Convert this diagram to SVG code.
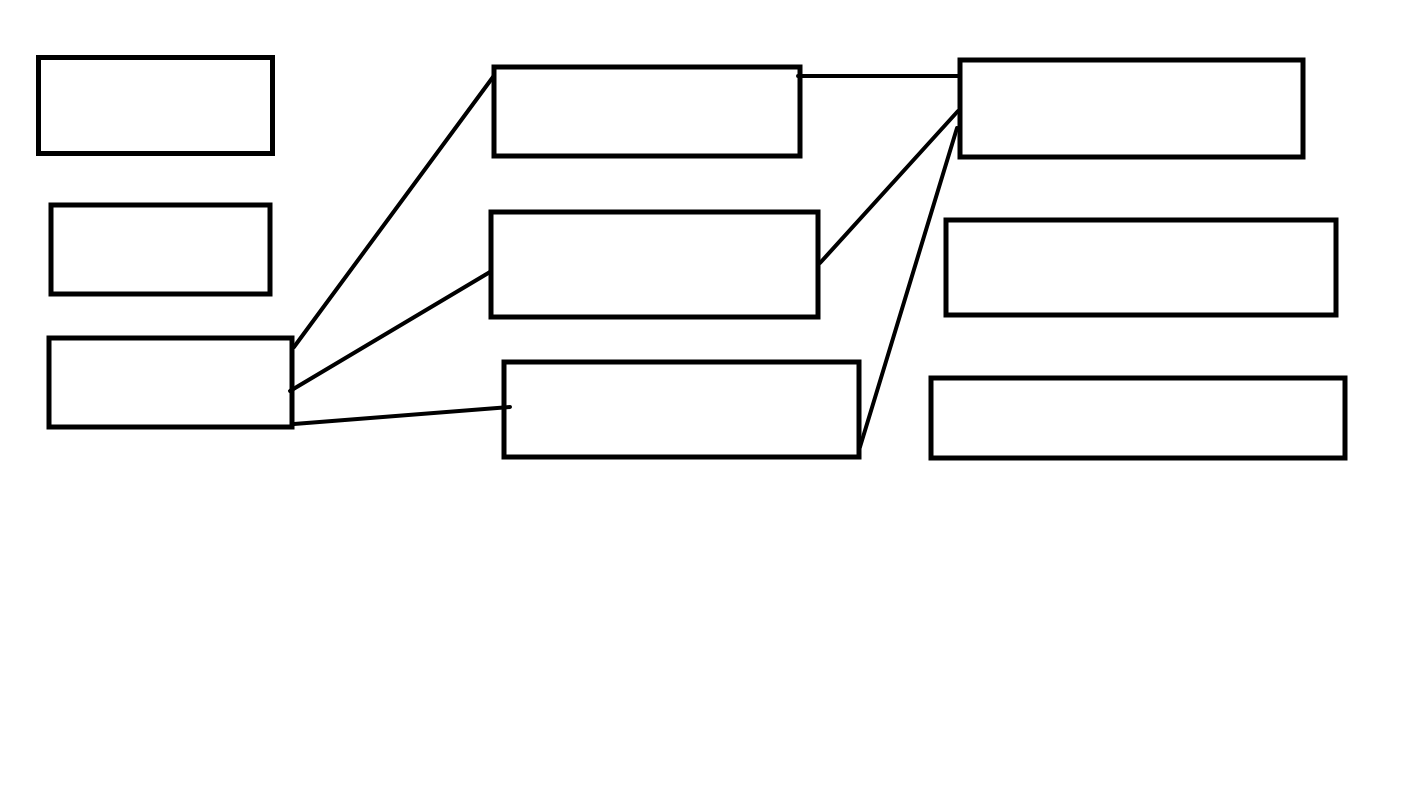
<svg xmlns="http://www.w3.org/2000/svg" width="1423" height="789" viewBox="0 0 1423 789">
<style>
.n{fill:none;stroke:#000;stroke-width:5}
.c{fill:none;stroke:#000;stroke-width:4;stroke-linecap:round}
</style>
<rect width="1423" height="789" fill="#fff"/>
<g id="node1"><rect class="n" x="38.5" y="57.5" width="234" height="96"/></g>
<g id="node2"><rect class="n" x="51" y="205" width="219" height="89"/></g>
<g id="node3"><rect class="n" x="49" y="338" width="243" height="89"/></g>
<g id="node4"><rect class="n" x="494" y="67" width="306" height="89"/></g>
<g id="node5"><rect class="n" x="491" y="212" width="327" height="105"/></g>
<g id="node6"><rect class="n" x="504" y="362" width="355" height="95"/></g>
<g id="node7"><rect class="n" x="960" y="60" width="343" height="97"/></g>
<g id="node8"><rect class="n" x="946" y="220" width="390" height="95"/></g>
<g id="node9"><rect class="n" x="931" y="378" width="414" height="80"/></g>
<g id="connectors">
<line class="c" x1="294" y1="347" x2="493" y2="77"/>
<line class="c" x1="290" y1="391" x2="490" y2="272"/>
<line class="c" x1="294" y1="424" x2="510" y2="407"/>
<line class="c" x1="798" y1="76" x2="960" y2="76"/>
<line class="c" x1="820" y1="263" x2="958" y2="111"/>
<line class="c" x1="860" y1="447" x2="957" y2="128"/>
</g>
</svg>
